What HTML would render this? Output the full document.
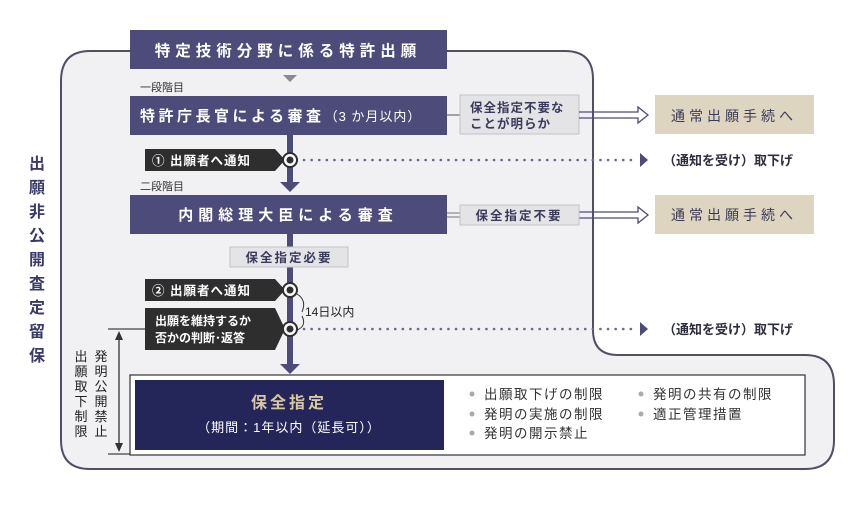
<!DOCTYPE html>
<html><head><meta charset="utf-8"><style>
html,body{margin:0;padding:0;background:#fff;}
svg{display:block;font-family:"Liberation Sans","Noto Sans CJK JP",sans-serif;}
</style></head><body>
<svg width="860" height="505" viewBox="0 0 860 505" xmlns="http://www.w3.org/2000/svg">
<!-- outer region -->
<path d="M90,51 L565,51 Q593,51 593,79 L593,330 Q593,355 618,355 L805,355 Q834,355 834,385 L834,440 Q834,469 805,469 L90,469 Q61,469 61,440 L61,81 Q61,51 90,51 Z" fill="#f1f1f3" stroke="#4f4f66" stroke-width="2"/>
<!-- left label -->
<g font-size="16" font-weight="bold" fill="#3a3a6a" text-anchor="middle">
<text x="37" y="169">出</text><text x="37" y="193">願</text><text x="37" y="217">非</text><text x="37" y="241">公</text><text x="37" y="265">開</text><text x="37" y="289">査</text><text x="37" y="313">定</text><text x="37" y="337">留</text><text x="37" y="361">保</text>
</g>
<!-- title -->
<rect x="130" y="30" width="317" height="39" fill="#4d4b7a"/>
<text x="288" y="56" font-size="15.5" font-weight="bold" fill="#fff" text-anchor="middle" letter-spacing="5">特定技術分野に係る特許出願</text>
<path d="M283,75 L297,75 L290,82 Z" fill="#8a8a94"/>
<text x="140" y="91" font-size="11" fill="#333">一段階目</text>
<!-- stem -->
<rect x="287" y="134" width="6" height="50" fill="#4d4b7a"/>
<path d="M280,182 L300,182 L290,192 Z" fill="#4d4b7a"/>
<rect x="287" y="234" width="6" height="132" fill="#4d4b7a"/>
<path d="M280,364 L300,364 L290,374 Z" fill="#4d4b7a"/>
<!-- box 2 -->
<rect x="130" y="96" width="317" height="39" fill="#4d4b7a"/>
<text x="140" y="121" font-size="15" font-weight="bold" fill="#fff" letter-spacing="3.5">特許庁長官による審査<tspan font-size="13" font-weight="normal" letter-spacing="1">（3 か月以内）</tspan></text>
<line x1="447" y1="115" x2="460" y2="115" stroke="#888" stroke-width="1.5"/>
<rect x="460" y="95" width="119" height="39" fill="#e4e4e7" stroke="#c4c4c8"/>
<text x="470" y="112" font-size="12.5" font-weight="bold" fill="#3a3a5a" letter-spacing="1">保全指定不要な</text>
<text x="470" y="128" font-size="12.5" font-weight="bold" fill="#3a3a5a" letter-spacing="1">ことが明らか</text>
<g fill="none" stroke="#4d4b7a" stroke-width="1.3">
<path d="M579,112 L638,112 L638,107 L648,115 L638,123 L638,118 L579,118"/>
<path d="M579,212 L638,212 L638,207 L648,215 L638,223 L638,218 L579,218"/>
</g>
<rect x="655" y="95" width="159" height="39" fill="#ddd5bf"/>
<text x="734" y="121" font-size="14" fill="#3a3a5a" text-anchor="middle" letter-spacing="4">通常出願手続へ</text>
<!-- notice 1 -->
<path d="M145,149 L275,149 L285,160 L275,171 L145,171 Z" fill="#2e2e2e"/>
<text x="152" y="165" font-size="12.5" font-weight="bold" fill="#fff" letter-spacing="1">① 出願者へ通知</text>
<line x1="304" y1="160" x2="634" y2="160" stroke="#6a6a88" stroke-width="2.6" stroke-dasharray="0.1,7.5" stroke-linecap="round"/>
<path d="M640,153 L648,160 L640,167 Z" fill="#4d4b7a"/>
<text x="663" y="165" font-size="13" font-weight="bold" fill="#2e2e3e">（通知を受け）取下げ</text>
<circle cx="290" cy="160" r="7" fill="#fff" stroke="#2e2e2e" stroke-width="2"/><circle cx="290" cy="160" r="3.5" fill="#2e2e2e"/>
<text x="140" y="190" font-size="11" fill="#333">二段階目</text>
<!-- box 3 -->
<rect x="130" y="195" width="317" height="39" fill="#4d4b7a"/>
<text x="288" y="220" font-size="15" font-weight="bold" fill="#fff" text-anchor="middle" letter-spacing="5">内閣総理大臣による審査</text>
<line x1="447" y1="213" x2="460" y2="213" stroke="#888" stroke-width="1.2"/><line x1="447" y1="217" x2="460" y2="217" stroke="#888" stroke-width="1.2"/>
<rect x="460" y="205" width="119" height="20" fill="#e4e4e7" stroke="#c4c4c8"/>
<text x="519" y="220" font-size="12.5" font-weight="bold" fill="#3a3a5a" text-anchor="middle" letter-spacing="2">保全指定不要</text>
<rect x="655" y="195" width="159" height="39" fill="#ddd5bf"/>
<text x="734" y="220" font-size="14" fill="#3a3a5a" text-anchor="middle" letter-spacing="4">通常出願手続へ</text>
<rect x="230" y="247" width="118" height="20" fill="#e4e4e7" stroke="#c4c4c8"/>
<text x="289" y="262" font-size="12.5" font-weight="bold" fill="#3a3a5a" text-anchor="middle" letter-spacing="2">保全指定必要</text>
<!-- notice 2 -->
<path d="M145,279 L275,279 L285,290 L275,301 L145,301 Z" fill="#2e2e2e"/>
<text x="152" y="295" font-size="12.5" font-weight="bold" fill="#fff" letter-spacing="1">② 出願者へ通知</text>
<path d="M145,308 L275,308 L285,329 L275,350 L145,350 Z" fill="#2e2e2e"/>
<text x="155" y="325" font-size="12" font-weight="bold" fill="#fff">出願を維持するか</text>
<text x="155" y="342" font-size="12" font-weight="bold" fill="#fff">否かの判断･返答</text>
<path d="M297,294 Q307,300 302,312 M302,316 Q307,326 297,330" fill="none" stroke="#333" stroke-width="1"/>
<text x="305" y="316" font-size="12" fill="#222">14日以内</text>
<line x1="304" y1="329" x2="634" y2="329" stroke="#6a6a88" stroke-width="2.6" stroke-dasharray="0.1,7.5" stroke-linecap="round"/>
<path d="M640,322 L648,329 L640,336 Z" fill="#4d4b7a"/>
<text x="663" y="334" font-size="13" font-weight="bold" fill="#2e2e3e">（通知を受け）取下げ</text>
<circle cx="290" cy="290" r="7" fill="#fff" stroke="#2e2e2e" stroke-width="2"/><circle cx="290" cy="290" r="3.5" fill="#2e2e2e"/>
<circle cx="290" cy="329" r="7" fill="#fff" stroke="#2e2e2e" stroke-width="2"/><circle cx="290" cy="329" r="3.5" fill="#2e2e2e"/>
<!-- restriction bracket -->
<line x1="108" y1="329" x2="145" y2="329" stroke="#444" stroke-width="1.2"/>
<line x1="108" y1="454" x2="130" y2="454" stroke="#444" stroke-width="1.2"/>
<line x1="119" y1="334" x2="119" y2="449" stroke="#333" stroke-width="1.3"/>
<path d="M115,340 L119,331 L123,340 Z M115,443 L119,452 L123,443 Z" fill="#333"/>
<g font-size="13" fill="#222" text-anchor="middle">
<text x="101" y="361">発</text><text x="101" y="376">明</text><text x="101" y="391">公</text><text x="101" y="406">開</text><text x="101" y="421">禁</text><text x="101" y="436">止</text>
<text x="81" y="361">出</text><text x="81" y="376">願</text><text x="81" y="391">取</text><text x="81" y="406">下</text><text x="81" y="421">制</text><text x="81" y="436">限</text>
</g>
<!-- final box -->
<rect x="130" y="375" width="675" height="80" fill="#fff" stroke="#333" stroke-width="1.2"/>
<rect x="135" y="380" width="309" height="70" fill="#24265a"/>
<text x="289" y="408" font-size="16" font-weight="bold" fill="#d7c8a2" text-anchor="middle" letter-spacing="3">保全指定</text>
<text x="289" y="432" font-size="13" fill="#fff" text-anchor="middle" letter-spacing="1">（期間：1年以内（延長可））</text>
<g font-size="13.5" fill="#333" letter-spacing="1.5">
<circle cx="472" cy="394" r="2.5" fill="#aaa"/><text x="484" y="399">出願取下げの制限</text>
<circle cx="472" cy="414" r="2.5" fill="#aaa"/><text x="484" y="419">発明の実施の制限</text>
<circle cx="472" cy="433" r="2.5" fill="#aaa"/><text x="484" y="438">発明の開示禁止</text>
<circle cx="641" cy="394" r="2.5" fill="#aaa"/><text x="653" y="399">発明の共有の制限</text>
<circle cx="641" cy="414" r="2.5" fill="#aaa"/><text x="653" y="419">適正管理措置</text>
</g>
</svg>
</body></html>
